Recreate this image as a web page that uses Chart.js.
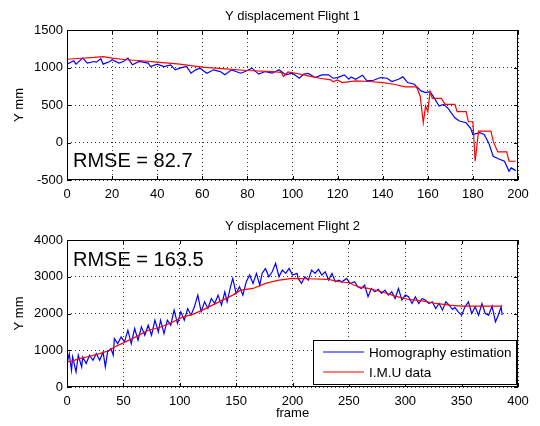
<!DOCTYPE html>
<html>
<head>
<meta charset="utf-8">
<script src="https://cdn.jsdelivr.net/npm/chart.js@4.4.1/dist/chart.umd.min.js"></script>
<style>
  html, body { margin: 0; padding: 0; background: #fff; }
  #wrap { position: relative; width: 540px; height: 426px; }
  canvas { position: absolute; left: 0; }
  #flight1 { top: 0; }
  #flight2 { top: 205px; }
</style>
</head>
<body>
<div id="wrap">
  <canvas id="flight1" width="540" height="205"></canvas>
  <canvas id="flight2" width="540" height="221"></canvas>
</div>
<script>
// Flight 1 - homography estimate (blue) and IMU (red), Y displacement in mm
const flight1HomFrames = [0,3,4,7,9,12,13,15,16,19,20,23,25,27,29,32,36,37,40,43,46,48,50,53,55,57,59,62,65,68,70,73,77,79,82,85,88,91,94,97,100,103,105,107,110,113,116,118,120,123,125,126,128,131,133,136,139,142,144,147,149,151,154,157,159,161,163,165,167,169,172,174,177,179,180,183,185,187,189,191,194,196,197,199];
const flight1HomValues = [1045,1089,1045,1125,1058,1080,1071,1116,1045,1080,1103,1058,1080,1125,1036,1080,1058,1013,1045,1013,1036,969,991,1013,924,969,991,924,969,946,902,969,924,946,991,911,946,924,969,902,924,857,911,920,866,902,902,857,866,902,844,875,844,897,821,830,866,857,813,844,875,799,777,688,665,679,589,487,509,455,330,286,263,188,107,130,107,-5,-183,-214,-250,-384,-339,-375];
const flight1ImuFrames = [0,5,12,16,20,26,33,40,50,60,70,80,91,95,96,98,102,107,112,117,118,120,122,128,134,140,145,150,155,156.6,158,159,160,161,162,166,167.7,172,173,177,178,180,181,182.5,188,189,191,195,196,199];
const flight1ImuValues = [1110,1120,1134,1145,1125,1103,1090,1071,1045,1004,982,960,946,935,880,940,920,888,857,835,808,835,799,821,813,799,777,741,741,620,263,487,411,679,589,589,509,509,411,411,277,277,-250,152,152,18,-125,-125,-250,-250];

// Flight 2
const flight2HomFrames = [0,2,4,5,8,10,13,14,17,20,23,26,29,32,34,36,39,41,42,45,48,51,54,57,60,63,66,69,72,75,78,81,83,86,89,92,95,98,101,104,107,110,113,116,119,122,125,128,131,134,137,140,142,145,147,150,153,156,159,162,165,168,171,173,176,179,182,185,188,191,194,197,200,204,
  205,208,211,214,217,220,223,226,229,232,235,238,241,244,248,251,255,258,261,264,267,270,273,276,279,282,285,288,291,294,297,300,303,306,309,312,315,318,321,324,327,330,333,336,339,342,344,347,350,353,356,359,362,365,368,371,374,377,380,382,383,385,386];
const flight2HomValues = [637,909,455,818,409,864,546,818,637,864,727,909,727,955,546,955,1046,864,1318,1182,1364,1227,1546,1182,1591,1273,1636,1409,1682,1409,1818,1500,1818,1455,1818,1682,2091,1727,2046,1818,2136,1955,2182,2500,2046,2318,2136,2409,2273,2500,2227,2591,2318,2727,2955,2546,2727,2500,2864,3046,2818,3091,2773,3091,3227,3000,3136,3364,3000,3182,3091,3227,3046,3091,
  2955,2818,3000,2909,3182,3091,3200,3046,3136,2909,3091,2864,2909,2864,2955,2818,2864,2727,2682,2773,2455,2682,2591,2655,2546,2636,2500,2591,2409,2682,2364,2500,2455,2273,2455,2273,2409,2364,2273,2318,2136,2273,2091,2318,2227,2109,2164,2046,1955,2182,2318,2000,2182,1955,2273,2000,1955,2200,1773,1909,2000,2182,1955];
const flight2ImuFrames = [0,5,11,20,29,38,42,50,61,72,82,91,103,112,120,129,138,147,154,165,176,188,200,214,232,241,250,258,267,279,291,303,315,327,339,350,362,374,386];
const flight2ImuValues = [682,710,773,836,909,1000,1090,1200,1364,1545,1618,1727,1909,1982,2091,2227,2364,2500,2636,2682,2818,2909,2955,2945,2927,2864,2836,2727,2682,2591,2473,2382,2345,2273,2227,2200,2200,2200,2200];

const seriesLabels = ['Homography estimation', 'I.M.U data'];

const FONT = '"Liberation Sans", Arial, Helvetica, sans-serif';

function toPoints(frames, values) {
    return frames.map((f, i) => ({ x: f, y: values[i] }));
}

// plain numbers, no thousands separator (MATLAB style)
const plainTick = v => String(v);

// MATLAB style box, inward ticks, title, RMSE note and legend
const matlabAxes = {
    id: 'matlabAxes',
    afterDraw(chart, args, o) {
        const { ctx, chartArea: a, scales } = chart;
        ctx.save();
        ctx.strokeStyle = '#000';
        ctx.lineWidth = 1;
        ctx.strokeRect(a.left + 0.5, a.top + 0.5, a.right - a.left - 1, a.bottom - a.top - 1);

        ctx.beginPath();
        scales.x.ticks.forEach(t => {
            const px = Math.round(scales.x.getPixelForValue(t.value)) + 0.5;
            ctx.moveTo(px, a.bottom); ctx.lineTo(px, a.bottom - 4);
            ctx.moveTo(px, a.top); ctx.lineTo(px, a.top + 4);
        });
        scales.y.ticks.forEach(t => {
            const py = Math.round(scales.y.getPixelForValue(t.value)) + 0.5;
            ctx.moveTo(a.left, py); ctx.lineTo(a.left + 4, py);
            ctx.moveTo(a.right, py); ctx.lineTo(a.right - 4, py);
        });
        ctx.stroke();

        ctx.fillStyle = '#000';
        ctx.font = '13px ' + FONT;
        ctx.textAlign = 'center';
        ctx.textBaseline = 'alphabetic';
        ctx.fillText(o.title, (a.left + a.right) / 2, o.titleY);

        ctx.font = '20px ' + FONT;
        ctx.textAlign = 'left';
        ctx.fillText(o.note, a.left + 6, o.noteY);

        if (o.legend) {
            const w = 203, h = 44;
            const bx = a.right - 2 - w, by = a.bottom - 3 - h;
            ctx.fillStyle = '#fff';
            ctx.fillRect(bx, by, w, h);
            ctx.strokeStyle = '#000';
            ctx.strokeRect(bx + 0.5, by + 0.5, w, h);
            ctx.font = '13.5px ' + FONT;
            ctx.textBaseline = 'middle';
            chart.data.datasets.forEach((ds, i) => {
                const ly = by + 12 + i * 20;
                ctx.strokeStyle = ds.borderColor;
                ctx.lineWidth = 1.2;
                ctx.beginPath();
                ctx.moveTo(bx + 10, ly); ctx.lineTo(bx + 51, ly);
                ctx.stroke();
                ctx.fillStyle = '#000';
                ctx.fillText(ds.label, bx + 56, ly + 1);
            });
        }
        ctx.restore();
    }
};

function drawFlight(id, d) {
    const H = d.height;
    new Chart(document.getElementById(id), {
        type: 'line',
        data: {
            datasets: [{
                label: seriesLabels[0],
                data: toPoints(d.homFrames, d.homValues),
                borderColor: '#0000ff',
                borderWidth: 1.2,
                pointRadius: 0,
                tension: 0,
                order: 1
            }, {
                label: seriesLabels[1],
                data: toPoints(d.imuFrames, d.imuValues),
                borderColor: '#ff0000',
                borderWidth: 1.2,
                pointRadius: 0,
                tension: 0,
                order: 0
            }]
        },
        options: {
            responsive: false,
            animation: false,
            events: [],
            layout: { padding: { top: d.plotTop, right: 22, left: 0, bottom: 0 } },
            plugins: {
                legend: { display: false },
                tooltip: { enabled: false },
                matlabAxes: { title: d.title, titleY: d.titleY, note: d.note, noteY: d.noteY, legend: d.legend }
            },
            scales: {
                x: {
                    type: 'linear',
                    min: 0, max: d.xMax,
                    ticks: { stepSize: d.xStep, padding: 7, color: '#000', font: { family: FONT, size: 13 }, maxRotation: 0, autoSkip: false, callback: plainTick },
                    grid: { color: '#333', lineWidth: 1, drawTicks: false },
                    border: { display: false, dash: [1, 3] },
                    title: { display: !!d.xTitle, text: d.xTitle, color: '#000', font: { family: FONT, size: 13 }, padding: { top: 0, bottom: 5 } },
                    afterFit: s => { s.height = H - d.plotBottom; }
                },
                y: {
                    min: d.yMin, max: d.yMax,
                    ticks: { stepSize: d.yStep, padding: 4, color: '#000', font: { family: FONT, size: 13 }, callback: plainTick },
                    grid: { color: '#333', lineWidth: 1, drawTicks: false },
                    border: { display: false, dash: [1, 3] },
                    title: { display: true, text: 'Y mm', color: '#000', font: { family: FONT, size: 13 }, padding: { top: 12, bottom: 0 } },
                    afterFit: s => { s.width = 67; }
                }
            }
        },
        plugins: [matlabAxes]
    });
}

drawFlight('flight1', {
    height: 205, plotTop: 30, plotBottom: 180,
    title: 'Y displacement Flight 1', titleY: 20,
    note: 'RMSE = 82.7', noteY: 167,
    xMax: 200, xStep: 20, yMin: -500, yMax: 1500, yStep: 500,
    homFrames: flight1HomFrames, homValues: flight1HomValues,
    imuFrames: flight1ImuFrames, imuValues: flight1ImuValues,
    legend: false
});

drawFlight('flight2', {
    height: 221, plotTop: 35, plotBottom: 182,
    title: 'Y displacement Flight 2', titleY: 25,
    note: 'RMSE = 163.5', noteY: 61,
    xMax: 400, xStep: 50, yMin: 0, yMax: 4000, yStep: 1000,
    xTitle: 'frame',
    homFrames: flight2HomFrames, homValues: flight2HomValues,
    imuFrames: flight2ImuFrames, imuValues: flight2ImuValues,
    legend: true
});
</script>
</body>
</html>
